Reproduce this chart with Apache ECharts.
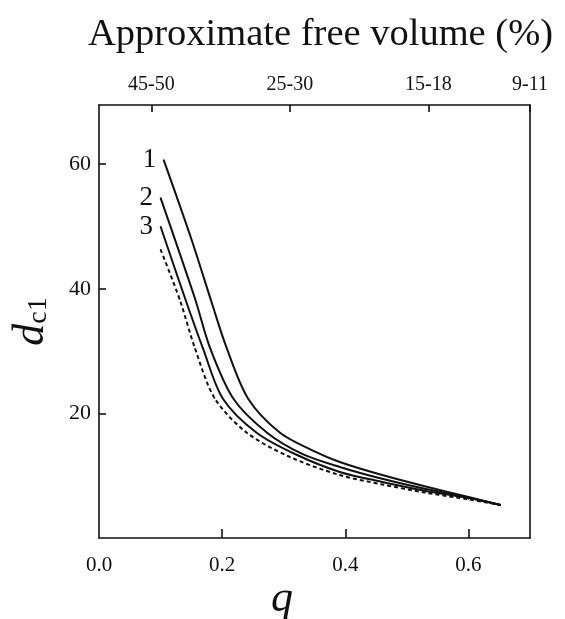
<!DOCTYPE html>
<html>
<head>
<meta charset="utf-8">
<script src="https://cdn.jsdelivr.net/npm/echarts@6/dist/echarts.min.js"></script>
<style>html,body{margin:0;padding:0;background:#fff;}#c{width:565px;height:619px;}</style>
</head>
<body>
<div id="c"></div>
<script>
var curve1 = [[0.105,60.7],[0.15,48.0],[0.183,37.8],[0.207,30.6],[0.242,22.4],[0.294,16.9],[0.35,13.9],[0.391,12.2],[0.46,10.1],[0.529,8.3],[0.6,6.6],[0.652,5.3]];
var curve2 = [[0.1,54.6],[0.156,38.4],[0.18,30.6],[0.218,22.4],[0.273,16.9],[0.33,13.5],[0.391,11.4],[0.46,9.5],[0.529,7.9],[0.6,6.5],[0.652,5.3]];
var curve3 = [[0.1,50.0],[0.14,38.4],[0.169,30.4],[0.201,22.4],[0.256,16.9],[0.32,13.4],[0.391,10.6],[0.46,9.0],[0.529,7.6],[0.6,6.4],[0.652,5.3]];
var curveDashed = [[0.1,46.3],[0.131,38.3],[0.156,30.4],[0.188,22.4],[0.24,16.9],[0.31,13.0],[0.391,10.1],[0.46,8.6],[0.529,7.3],[0.6,6.2],[0.652,5.3]];
var curveNames = ['1','2','3',''];
var xTickValues = [0.2, 0.4, 0.6];
var xLabelValues = [0, 0.2, 0.4, 0.6];
var yTickValues = [20, 40, 60];
var topTickValues = [0.085, 0.31, 0.535, 0.7];
var topTickLabels = ['45-50', '25-30', '15-18', '9-11'];
var titleText = 'Approximate free volume (%)';
var xName = 'q';

var serif = "'Liberation Serif','Times New Roman',serif";
var axisLine = {show: true, onZero: false, lineStyle: {color: '#111', width: 1.6}};
var chart = echarts.init(document.getElementById('c'));

function mk(data, name, dashed, labelPad) {
  var d = data.map(function (p, i) {
    if (i === 0 && name) {
      return {value: p, label: {show: true, position: 'left', distance: 7, padding: labelPad,
        formatter: name, fontFamily: serif, fontSize: 27, color: '#111'}};
    }
    return p;
  });
  return {
    type: 'line', data: d, smooth: 0.3, symbol: 'circle', symbolSize: 1, showSymbol: true,
    xAxisIndex: 0, yAxisIndex: 0,
    itemStyle: {color: '#111'},
    lineStyle: {color: '#111', width: 2, type: dashed ? [4, 3] : 'solid'},
    label: {show: false}, labelLayout: {hideOverlap: false}, silent: true, animation: false
  };
}

chart.setOption({
  animation: false,
  backgroundColor: '#fff',
  title: [
    {text: titleText, left: 83, top: 10, textStyle: {fontFamily: serif, fontSize: 38.5, fontWeight: 'normal', color: '#111'}},
    {text: xName, left: 266, top: 572, textStyle: {fontFamily: serif, fontSize: 44, fontStyle: 'italic', fontWeight: 'normal', color: '#111'}}
  ],
  grid: {left: 99, right: 35, top: 105, bottom: 81, containLabel: false},
  xAxis: [
    {type: 'value', min: 0, max: 0.7, position: 'bottom',
     axisLine: axisLine, splitLine: {show: false},
     axisTick: {show: true, inside: true, length: 9, customValues: xTickValues, lineStyle: {color: '#111', width: 1.6}},
     axisLabel: {customValues: xLabelValues, margin: 17, fontFamily: serif, fontSize: 21, color: '#111',
       formatter: function (v) { return v.toFixed(1); }}},
    {type: 'value', min: 0, max: 0.7, position: 'top',
     axisLine: axisLine, splitLine: {show: false},
     axisTick: {show: true, inside: true, length: 7, customValues: topTickValues, lineStyle: {color: '#111', width: 1.6}},
     axisLabel: {customValues: topTickValues, margin: 10, fontFamily: serif, fontSize: 20, color: '#111',
       formatter: function (v) { var i = topTickValues.indexOf(v); return i >= 0 ? topTickLabels[i] : ''; }}}
  ],
  yAxis: [
    {type: 'value', min: 0, max: 69.5, position: 'left',
     axisLine: axisLine, splitLine: {show: false},
     axisTick: {show: true, inside: true, length: 7, customValues: yTickValues, lineStyle: {color: '#111', width: 1.6}},
     axisLabel: {customValues: yTickValues, margin: 8, fontFamily: serif, fontSize: 22, color: '#111'},
     name: '{d|d}{s|c1}', nameLocation: 'middle', nameGap: 46,
     nameTextStyle: {rich: {
       d: {fontFamily: serif, fontSize: 44, fontStyle: 'italic', color: '#111', lineHeight: 44},
       s: {fontFamily: serif, fontSize: 28, color: '#111', lineHeight: 24, verticalAlign: 'bottom'}
     }}},
    {type: 'value', min: 0, max: 69.5, position: 'right',
     axisLine: axisLine, splitLine: {show: false}, axisTick: {show: false}, axisLabel: {show: false}}
  ],
  series: [
    mk(curve1, curveNames[0], false, [0, 0, 4, 0]),
    mk(curve2, curveNames[1], false, [0, 0, 14, 0]),
    mk(curve3, curveNames[2], false, [0, 0, 10, 0]),
    mk(curveDashed, curveNames[3], true, [0, 0, 0, 0])
  ]
});
</script>
</body>
</html>
